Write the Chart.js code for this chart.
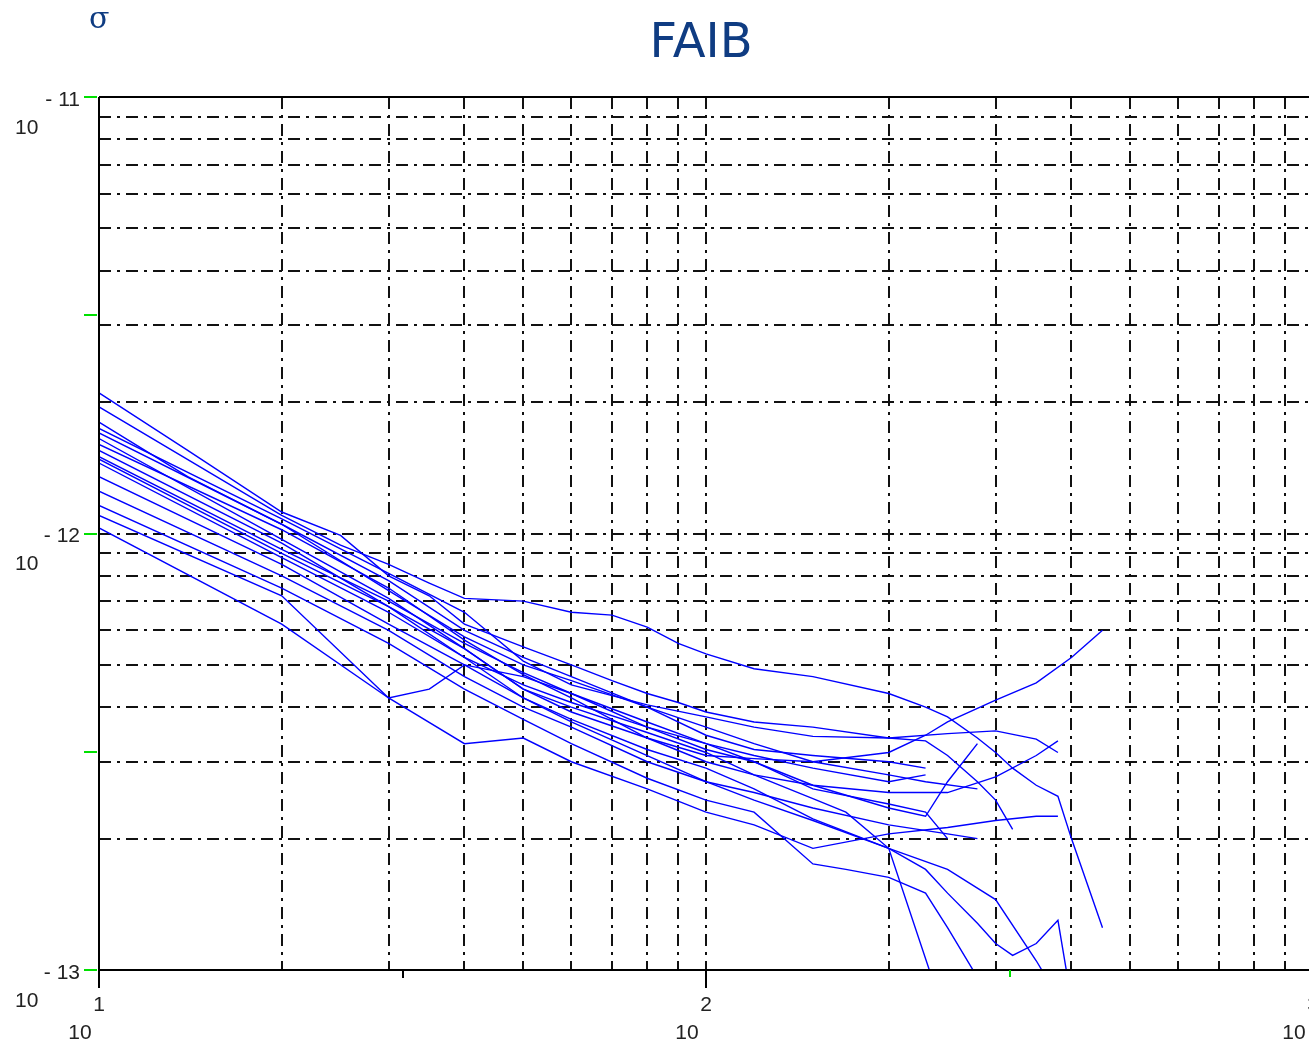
<!DOCTYPE html>
<html>
<head>
<meta charset="utf-8">
<script src="https://cdn.jsdelivr.net/npm/chart.js@4"></script>
<style>
  html, body { margin: 0; padding: 0; background: #fff; overflow: hidden; }
  #wrap { position: relative; width: 1309px; height: 1047px; overflow: hidden; }
  canvas { position: absolute; left: 0; top: 0; }
</style>
</head>
<body>
<div id="wrap"><canvas id="c" width="1320" height="1047"></canvas></div>
<script>
// tau (x) grid shared by all curves; sigma values are in units of 1e-12
const tau = [10, 14, 20, 25, 30, 35, 40, 50, 60, 70, 80, 90, 100, 120, 150, 170, 200, 230, 250, 280, 300, 320, 350, 380, 400, 450];

const s1  = [1.95, null, 1.1, 0.94, 0.85, 0.77, 0.71, 0.7, 0.66, 0.65, 0.61, 0.56, 0.53, 0.49, 0.47, null, 0.43, 0.4, 0.38, 0.34, 0.315, 0.29, 0.265, 0.25, 0.2, 0.125];
const s2  = [2.1, 1.55, 1.12, 0.99, 0.8, 0.72, 0.62, 0.55, 0.5, 0.46, 0.43, 0.41, 0.39, 0.37, 0.36, null, 0.34, 0.335, 0.31, 0.27, 0.245, 0.21, null, null, null, null];
const s3  = [1.65, null, 0.97, null, 0.71, null, 0.545, 0.44, 0.39, null, 0.34, null, 0.31, 0.305, 0.3, null, 0.315, 0.345, 0.37, null, 0.415, null, 0.455, null, 0.52, 0.6];
const s4  = [1.6, null, 1.02, null, 0.75, null, 0.57, 0.475, 0.42, null, 0.34, null, 0.3, 0.28, 0.265, null, 0.255, 0.255, 0.255, null, 0.277, null, 0.31, 0.335, null, null];
const s5  = [1.74, null, 1.08, null, 0.81, null, 0.66, 0.51, 0.45, null, 0.405, null, 0.38, 0.36, 0.343, null, 0.34, null, 0.348, null, 0.353, null, 0.338, 0.315, null, null];
const s6  = [1.55, null, 0.95, null, 0.68, null, 0.545, 0.44, 0.4, null, 0.35, null, 0.315, 0.28, 0.247, 0.23, 0.19, null, 0.075, null, null, null, null, null, null, null];
const s7  = [1.16, null, 0.75, null, 0.56, null, 0.44, 0.375, 0.33, null, 0.275, null, 0.245, 0.23, 0.175, 0.17, 0.163, 0.15, 0.125, null, 0.082, null, null, null, null, null];
const s8  = [1.48, null, 0.9, null, 0.68, null, 0.52, 0.42, 0.375, null, 0.32, null, 0.29, 0.26, 0.222, null, 0.19, null, 0.17, null, 0.145, null, 0.105, null, 0.077, null];
const s9  = [1.35, null, 0.85, null, 0.62, null, 0.5, 0.42, 0.37, null, 0.31, null, 0.27, 0.245, 0.22, null, 0.19, 0.17, 0.15, 0.128, 0.115, 0.108, 0.115, 0.13, 0.085, null];
const s10 = [1.03, null, 0.62, null, 0.42, null, 0.33, 0.34, 0.3, null, 0.26, null, 0.23, 0.215, 0.19, null, 0.205, null, 0.212, null, 0.22, null, 0.225, 0.225, null, null];
const s11 = [1.1, null, 0.72, null, 0.42, 0.44, 0.5, 0.47, 0.43, null, 0.36, null, 0.32, 0.3, 0.26, null, 0.24, 0.23, 0.2, null, null, null, null, null, null, null];
const s12 = [1.45, null, 0.88, null, 0.66, null, 0.52, 0.45, 0.41, null, 0.36, null, 0.33, 0.3, 0.265, null, 0.235, 0.225, 0.27, 0.33, null, null, null, null, null, null];
const s13 = [1.7, null, 1.05, null, 0.78, null, 0.6, 0.52, 0.47, null, 0.4, null, 0.36, 0.33, 0.3, null, 0.28, 0.27, null, 0.26, null, null, null, null, null, null];
const s14 = [1.25, null, 0.8, null, 0.6, null, 0.47, 0.4, 0.36, null, 0.3, null, 0.27, 0.255, 0.235, null, 0.215, null, 0.205, 0.2, null, null, null, null, null, null];
const s15 = [1.8, 1.35, 1.05, null, 0.74, null, 0.58, 0.5, 0.46, null, 0.4, null, 0.345, 0.32, 0.31, null, 0.3, 0.29, null, null, null, null, null, null, null, null];
const s16 = [1.5, null, 0.92, null, 0.7, null, 0.56, 0.48, 0.43, null, 0.37, null, 0.33, 0.31, 0.29, null, 0.27, 0.28, null, null, null, null, null, null, null, null];
const curves = [s1, s2, s3, s4, s5, s6, s7, s8, s9, s10, s11, s12, s13, s14, s15, s16];

// axis / grid values
const xGrid = [20, 30, 40, 50, 60, 70, 80, 90, 100, 200, 300, 400, 500, 600, 700, 800, 900];
const yGrid = [0.2, 0.3, 0.4, 0.5, 0.6, 0.7, 0.8, 0.9, 1, 2, 3, 4, 5, 6, 7, 8, 9];
const xDecades = [1, 2, 3];        // 10^1 .. 10^3
const yDecades = [-13, -12, -11];  // 10^-13 .. 10^-11 (plotted in 1e-12 units)
const yHalfTicks = [0.1, 0.316, 1, 3.16, 10];

const BLUE = '#0000ff';
const INK = '#222';
const LABEL_FONT = '21px "Liberation Sans Narrow", "Liberation Sans", Arial, sans-serif';

function seg(ctx, x0, y0, x1, y1) {
  ctx.beginPath(); ctx.moveTo(x0, y0); ctx.lineTo(x1, y1); ctx.stroke();
}

const gridPlugin = {
  id: 'scilabGrid',
  beforeDatasetsDraw(chart) {
    const { ctx, chartArea: a, scales: { x, y } } = chart;
    ctx.save();
    ctx.strokeStyle = '#111';
    ctx.lineWidth = 2;
    ctx.setLineDash([12, 6, 3, 6]);
    xGrid.forEach(v => {
      const px = Math.round(x.getPixelForValue(v));
      seg(ctx, px, a.top, px, a.bottom);
    });
    yGrid.forEach(v => {
      const py = Math.round(y.getPixelForValue(v));
      seg(ctx, a.left, py, a.right, py);
    });
    ctx.restore();
  },
  afterDraw(chart) {
    const { ctx, chartArea: a, scales: { x, y } } = chart;
    ctx.save();
    // frame
    ctx.strokeStyle = '#000';
    ctx.lineWidth = 2;
    seg(ctx, a.left, a.top, a.right, a.top);
    seg(ctx, a.left, a.bottom, a.right, a.bottom);
    seg(ctx, a.left, a.top, a.left, a.bottom + 18);

    // bottom ticks
    xDecades.forEach(e => {
      const px = Math.round(x.getPixelForValue(Math.pow(10, e)));
      seg(ctx, px, a.bottom, px, a.bottom + 18);
    });
    const half1 = Math.round(x.getPixelForValue(Math.pow(10, 1.5)));
    seg(ctx, half1, a.bottom, half1, a.bottom + 8);
    ctx.strokeStyle = '#00e000';
    const half2 = Math.round(x.getPixelForValue(Math.pow(10, 2.5)));
    seg(ctx, half2, a.bottom, half2, a.bottom + 7);

    // green ticks on the left axis
    yHalfTicks.forEach(v => {
      const py = Math.round(y.getPixelForValue(v));
      seg(ctx, a.left - 15, py, a.left - 2, py);
    });

    // tick labels
    ctx.fillStyle = INK;
    ctx.textBaseline = 'middle';
    ctx.font = LABEL_FONT;
    yDecades.forEach(e => {
      const py = y.getPixelForValue(Math.pow(10, e + 12));
      ctx.textAlign = 'right';
      ctx.fillText('- ' + String(-e), 80, py + 3);
      ctx.textAlign = 'left';
      ctx.fillText('10', 15, py + 31);
    });
    xDecades.forEach(e => {
      const px = x.getPixelForValue(Math.pow(10, e));
      ctx.textAlign = 'center';
      ctx.fillText(String(e), px, a.bottom + 35);
      ctx.fillText('10', px - 19, a.bottom + 63);
    });

    // title and y symbol
    ctx.fillStyle = '#0f3c82';
    ctx.textAlign = 'center';
    ctx.textBaseline = 'alphabetic';
    ctx.font = '48px "DejaVu Sans", sans-serif';
    ctx.fillText('FAIB', 701, 57);
    ctx.textAlign = 'left';
    ctx.font = '30px "DejaVu Serif", serif';
    ctx.fillText('σ', 89, 28);
    ctx.restore();
  }
};

new Chart(document.getElementById('c'), {
  type: 'line',
  data: {
    datasets: curves.map((s, i) => ({
      label: 'run ' + (i + 1),
      data: tau.map((t, k) => ({ x: t, y: s[k] })).filter(p => p.y != null),
      borderColor: BLUE,
      borderWidth: 1.4,
      pointRadius: 0,
      tension: 0,
      fill: false
    }))
  },
  options: {
    responsive: false,
    devicePixelRatio: 1,
    animation: false,
    layout: { padding: { left: 99, top: 97, right: 7, bottom: 77 } },
    plugins: { legend: { display: false }, tooltip: { enabled: false }, title: { display: false } },
    scales: {
      x: { type: 'logarithmic', min: 10, max: 1000, display: false },
      y: { type: 'logarithmic', min: 0.1, max: 10, display: false }
    }
  },
  plugins: [gridPlugin]
});
</script>
</body>
</html>
